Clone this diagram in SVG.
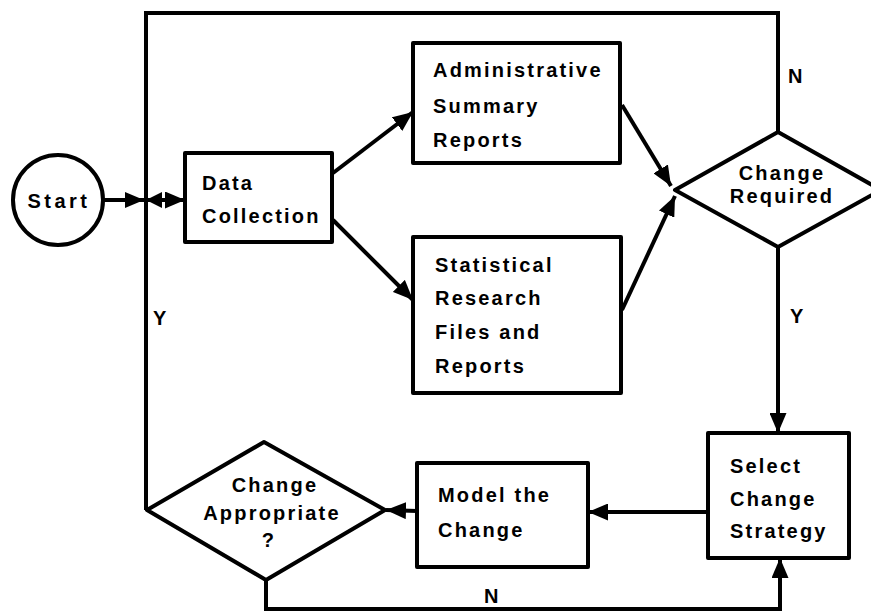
<svg xmlns="http://www.w3.org/2000/svg" width="871" height="611" viewBox="0 0 871 611">
<defs>
<marker id="ah" viewBox="0 0 20 17" refX="20" refY="8.5" markerWidth="20" markerHeight="17" markerUnits="userSpaceOnUse" orient="auto">
<path d="M0,0 L20,8.5 L0,17 z" fill="#000"/>
</marker>
<style>
.box{fill:#fff;stroke:#000;stroke-width:4;stroke-linejoin:round}
.ln{fill:none;stroke:#000;stroke-width:4;stroke-linejoin:miter}
.arr{marker-end:url(#ah)}
text{font-family:"Liberation Sans",Arial,sans-serif;font-weight:bold;font-size:20px;letter-spacing:2.2px;fill:#000}
.c{text-anchor:middle}
</style>
</defs>
<rect width="871" height="611" fill="#fff"/>
<g id="connectors">
<line class="ln" x1="103" y1="200" x2="185" y2="200" marker-end="url(#ah)"/>
<polygon points="125,192 144,200 125,208" fill="#000"/>
<polygon points="146,200 162,192 162,208" fill="#000"/>
<line class="ln arr" x1="333" y1="173" x2="413" y2="112"/>
<line class="ln arr" x1="333" y1="220" x2="413" y2="300"/>
<line class="ln arr" x1="622" y1="105" x2="671" y2="186"/>
<line class="ln arr" x1="622" y1="310" x2="675" y2="196"/>
<polyline class="ln" points="778,132 778,13 146,13 146,510"/>
<line class="ln arr" x1="778" y1="247" x2="778" y2="433"/>
<line class="ln arr" x1="708" y1="512" x2="588" y2="512"/>
<line class="ln arr" x1="417" y1="511" x2="386" y2="510"/>
<polyline class="ln arr" points="266,580 266,609 780,609 780,558"/>
<text x="788" y="83">N</text>
<text x="153" y="325">Y</text>
<text x="790" y="323">Y</text>
<text x="484" y="603">N</text>
</g>
<g id="start">
<circle cx="58" cy="200" r="45" class="box"/>
<text x="59" y="208" class="c" style="letter-spacing:3.5px">Start</text>
</g>
<g id="data-collection">
<rect x="185" y="153" width="147" height="89" class="box"/>
<text x="202" y="190">Data</text>
<text x="202" y="223">Collection</text>
</g>
<g id="admin-reports">
<rect x="413" y="43" width="207" height="120" class="box"/>
<text x="433" y="77">Administrative</text>
<text x="433" y="113">Summary</text>
<text x="433" y="147">Reports</text>
</g>
<g id="stat-reports">
<rect x="413" y="237" width="208" height="156" class="box"/>
<text x="435" y="272">Statistical</text>
<text x="435" y="305">Research</text>
<text x="435" y="339">Files and</text>
<text x="435" y="373">Reports</text>
</g>
<g id="change-required">
<polygon points="675,190 778,132 881,190 778,247" class="box"/>
<text x="782" y="180" class="c">Change</text>
<text x="782" y="203" class="c">Required</text>
</g>
<g id="select-strategy">
<rect x="708" y="433" width="141" height="125" class="box"/>
<text x="730" y="473">Select</text>
<text x="730" y="506">Change</text>
<text x="730" y="538">Strategy</text>
</g>
<g id="model-change">
<rect x="417" y="463" width="171" height="104" class="box"/>
<text x="438" y="502">Model the</text>
<text x="438" y="537">Change</text>
</g>
<g id="change-appropriate">
<polygon points="147,510 264,442 385,510 266,580" class="box"/>
<text x="275" y="492" class="c">Change</text>
<text x="272" y="520" class="c">Appropriate</text>
<text x="269" y="547" class="c">?</text>
</g>
</svg>
